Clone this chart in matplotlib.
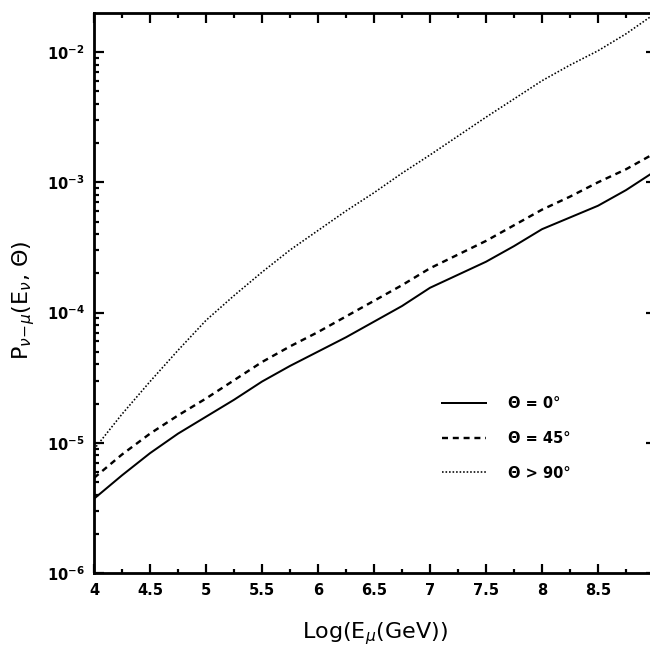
import numpy as np
import matplotlib
matplotlib.use("Agg")
import matplotlib.pyplot as plt
from matplotlib.ticker import MultipleLocator, LogLocator, NullFormatter, FuncFormatter

# Data: log10(E_mu / GeV) and log10 of probability
log_e = [4.0, 4.25, 4.5, 4.75, 5.0, 5.25, 5.5, 5.75, 6.0, 6.25, 6.5, 6.75, 7.0,
         7.25, 7.5, 7.75, 8.0, 8.25, 8.5, 8.75, 9.0]
p_theta0 = [-5.43, -5.25, -5.08, -4.93, -4.80, -4.67, -4.53, -4.41, -4.30, -4.19, -4.07, -3.95, -3.81,
            -3.71, -3.61, -3.49, -3.36, -3.27, -3.18, -3.06, -2.92]
p_theta45 = [-5.27, -5.09, -4.93, -4.79, -4.66, -4.52, -4.38, -4.26, -4.15, -4.03, -3.91, -3.79, -3.66,
             -3.555, -3.45, -3.33, -3.21, -3.11, -3.00, -2.90, -2.78]
p_theta90 = [-5.05, -4.78, -4.53, -4.29, -4.06, -3.87, -3.69, -3.52, -3.37, -3.22, -3.08, -2.93, -2.79,
             -2.645, -2.50, -2.36, -2.22, -2.10, -1.99, -1.86, -1.71]
labels = ["Θ = 0°", "Θ = 45°", "Θ > 90°"]

W, H = 650, 646
PX = 72 / 100  # points per pixel at 100 dpi
fig = plt.figure(figsize=(W / 100, H / 100), dpi=100)
ax = fig.add_axes([94 / W, 73 / H, 561 / W, 560 / H])

ax.plot(log_e, 10 ** np.array(p_theta0), color="black", lw=2.0 * PX, ls="-", label=labels[0])
ax.plot(log_e, 10 ** np.array(p_theta45), color="black", lw=2.4 * PX, ls=(0, (2.5, 2.0)), label=labels[1])
ax.plot(log_e, 10 ** np.array(p_theta90), color="black", lw=1.6 * PX, ls=(0, (1, 1.2)), label=labels[2])

ax.set_yscale("log")
ax.set_xlim(4, 4 + 561 / 112)
ax.set_ylim(1e-6, 10 ** -1.70)

ax.xaxis.set_major_locator(MultipleLocator(0.5))
ax.xaxis.set_minor_locator(MultipleLocator(0.25))
ax.yaxis.set_major_locator(LogLocator(base=10, numticks=10))
ax.yaxis.set_minor_locator(LogLocator(base=10, subs=np.arange(2, 10), numticks=20))
ax.yaxis.set_minor_formatter(NullFormatter())
ax.xaxis.set_major_formatter(FuncFormatter(lambda v, p: ("%g" % v) if v < 8.9 else ""))

ax.tick_params(which="both", direction="in", top=True, right=True, width=2.2 * PX)
ax.tick_params(which="major", length=9.5 * PX, labelsize=10.5, pad=7)
ax.tick_params(which="minor", length=4.5 * PX)
for lab in ax.get_xticklabels() + ax.get_yticklabels():
    lab.set_fontweight("bold")
for s in ax.spines.values():
    s.set_linewidth(2.8 * PX)

ax.set_xlabel(r"Log(E$_\mu$(GeV))", fontsize=16, labelpad=16)
ax.set_ylabel(r"P$_{\nu\!-\!\mu}$(E$_\nu$, Θ)", fontsize=16)
ax.yaxis.set_label_coords(-0.102, 0.487)

leg = ax.legend(loc="upper left", bbox_to_anchor=(335 / 561, (633 - 443) / 560), frameon=False,
                fontsize=10.5, handlelength=3.0, handletextpad=1.5, labelspacing=1.35)
for t in leg.get_texts():
    t.set_fontweight("bold")

fig.savefig("out.png", dpi=100)
